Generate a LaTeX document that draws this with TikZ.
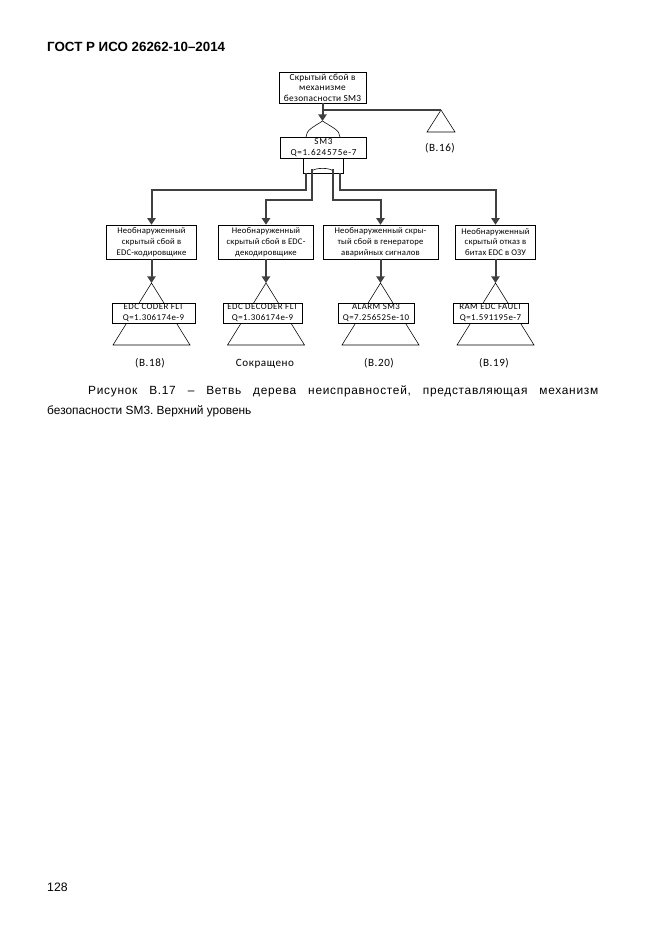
\documentclass[tikz,border=0pt]{standalone}
\usepackage{fontspec}
\setmainfont{Liberation Sans}
\newfontfamily\capfont{Liberation Sans}[LetterSpace=6]
\newfontfamily\dfont{Carlito}[LetterSpace=2]
\newfontfamily\dfontT{Carlito}[LetterSpace=3]
\newfontfamily\dfontL{Carlito}[LetterSpace=5]
\newfontfamily\dfontS{Carlito}[LetterSpace=8]
\newfontfamily\dfontLab{Carlito}[LetterSpace=5]
\usetikzlibrary{arrows.meta}
\definecolor{lineg}{HTML}{404040}
\frenchspacing
\begin{document}
\begin{tikzpicture}[x=0.9pt,y=-0.9pt,
  box/.style={draw,line width=0.5pt,fill=white,font=\dfont\fontsize{7.8}{9.8}\selectfont,align=center,inner sep=0pt},
  topbox/.style={box,font=\dfontT\fontsize{8.4}{9.5}\selectfont},
  smbox/.style={box,font=\dfontS\fontsize{8.2}{9.6}\selectfont},
  basbox/.style={box,font=\dfontL\fontsize{8}{9.6}\selectfont},
  lbl/.style={font=\dfontLab\fontsize{10}{12}\selectfont,inner sep=0pt,anchor=base},
  conn/.style={draw=lineg,line width=1.8pt},
  arr/.style={conn,-{Triangle[length=6pt,width=7.5pt]}},
  thinl/.style={line width=0.5pt}]
\useasboundingbox (0,0) rectangle (661,935);
% header, caption, page number
\node[anchor=base west,inner sep=0pt,font=\bfseries\fontsize{12}{14}\selectfont] (hdr) at (47,51) {ГОСТ Р ИСО 26262-10–2014};
\node[anchor=base west,inner sep=0pt,font=\capfont\fontsize{10.7}{13}\selectfont] (cap1) at (88,394) {\makebox[459pt][s]{Рисунок В.17 – Ветвь дерева неисправностей, представляющая механизм}};
\node[anchor=base west,inner sep=0pt,font=\fontsize{10.7}{13}\selectfont] (cap2) at (47,414) {безопасности SM3. Верхний уровень};
\node[anchor=base west,inner sep=0pt,font=\fontsize{11}{13}\selectfont] (pg) at (47,891) {128};

% top event
\node[topbox,minimum width=0.9*87pt,minimum height=0.9*31pt] (top) at (322.5,87.5) {Скрытый сбой в\\механизме\\безопасности SM3};
\coordinate (orapex) at (322.5,121);
\coordinate (t16) at (441,110);
\draw[thinl] (t16) -- ++(-14,22) -- ++(28,0) -- cycle;
\node[lbl] (l16) at (440,151.5) {(В.16)};
\draw[conn] (top.south |- t16) -- (t16);
\draw[arr] (top.south) -- (orapex);
% OR gate arch
\draw[thinl] (orapex) .. controls +(-9,6) and +(0,-7) .. (306,137);
\draw[thinl] (orapex) .. controls +(9,6) and +(0,-7) .. (340,137);
\node[smbox,minimum width=0.9*86pt,minimum height=0.9*21pt] (sm3) at (323.5,147.5) {SM3\\Q=1.624575e-7};
% gate below SM3
\node[draw,thinl,minimum width=0.9*40pt,minimum height=0.9*15pt,inner sep=0pt] (andg) at (323,165.5) {};
\draw[thinl] (312,171) .. controls (315,167.5) and (330,167.5) .. (333,171);

% intermediate events
\node[box,minimum width=0.9*90pt,minimum height=0.9*34pt] (e1) at (151.5,242) {Необнаруженный\\скрытый сбой в\\EDC-кодировщике};
\node[box,minimum width=0.9*95pt,minimum height=0.9*34pt] (e2) at (266,242) {Необнаруженный\\скрытый сбой в EDC-\\декодировщике};
\node[box,minimum width=0.9*115pt,minimum height=0.9*34pt] (e3) at (380.5,242) {Необнаруженный скры-\\тый сбой в генераторе\\аварийных сигналов};
\node[box,minimum width=0.9*80pt,minimum height=0.9*34pt] (e4) at (495.5,242) {Необнаруженный\\скрытый отказ в\\битах EDC в ОЗУ};

% gate outputs
\coordinate (o1) at (306,173);
\coordinate (o2) at (312,169);
\coordinate (o3) at (333,169);
\coordinate (o4) at (340,173);
\coordinate (h1) at (0,190);
\coordinate (h2) at (0,200);
\draw[arr] (o1) -- (o1 |- h1) -- (e1.north |- h1) -- (e1.north);
\draw[arr] (o2) -- (o2 |- h2) -- (e2.north |- h2) -- (e2.north);
\draw[arr] (o3) -- (o3 |- h2) -- (e3.north |- h2) -- (e3.north);
\draw[arr] (o4) -- (o4 |- h1) -- (e4.north |- h1) -- (e4.north);

% transfer triangles and basic events
\foreach \i in {1,2,3,4}{
  \coordinate (ap\i) at (e\i.south |- 0,283);
  \draw[thinl] (ap\i) -- ++(-38.5,62) -- ++(77,0) -- cycle;
  \draw[arr] (e\i.south) -- (ap\i);
}
\node[basbox,minimum width=0.9*83pt,minimum height=0.9*20pt] (b1) at (153.5,313) {EDC CODER FLT\\Q=1.306174e-9};
\node[basbox,minimum width=0.9*79pt,minimum height=0.9*20pt] (b2) at (262.5,313) {EDC DECODER FLT\\Q=1.306174e-9};
\node[basbox,minimum width=0.9*76pt,minimum height=0.9*20pt] (b3) at (376,313) {ALARM SM3\\Q=7.256525e-10};
\node[basbox,minimum width=0.9*75pt,minimum height=0.9*20pt] (b4) at (490.5,313) {RAM EDC FAULT\\Q=1.591195e-7};

\node[lbl] (l18) at (150,366) {(В.18)};
\node[lbl] (lcut) at (265,366) {Сокращено};
\node[lbl] (l20) at (379,366) {(В.20)};
\node[lbl] (l19) at (494,366) {(В.19)};
\end{tikzpicture}
\end{document}
